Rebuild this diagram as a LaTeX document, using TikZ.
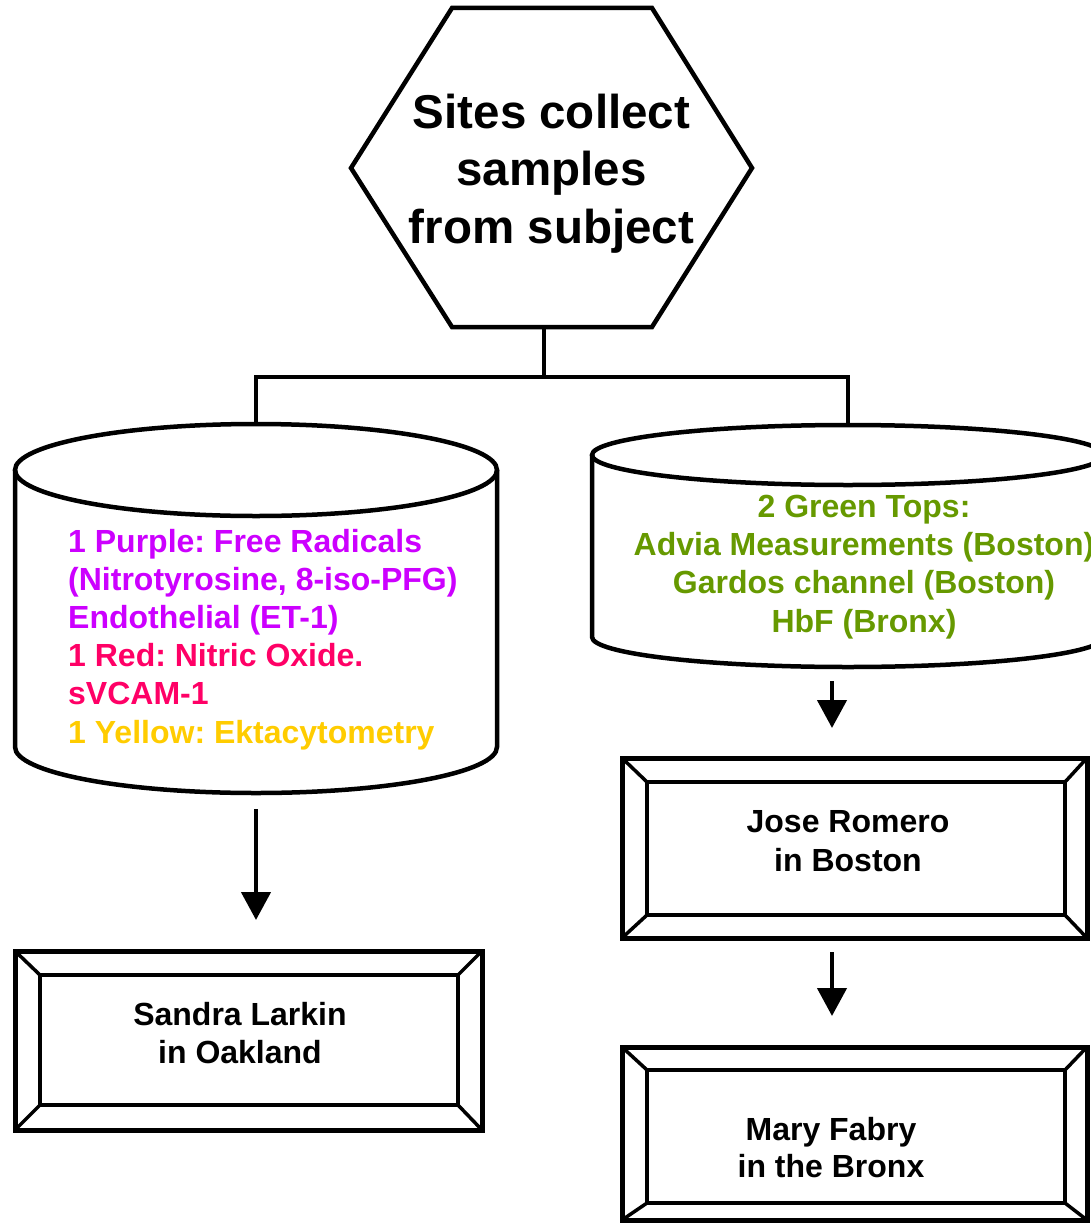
\documentclass[tikz,border=0pt]{standalone}
\usepackage{fontspec}
\setmainfont{Liberation Sans}
\usetikzlibrary{arrows.meta}
\frenchspacing
\definecolor{cpurple}{HTML}{CC00FF}
\definecolor{cred}{HTML}{FF0066}
\definecolor{cyellow}{HTML}{FFCC00}
\definecolor{cgreen}{HTML}{669900}
\newcommand{\bevbox}[8]{%
  % #1,#2 outer top-left; #3,#4 outer bottom-right; #5,#6 inner top-left; #7,#8 inner bottom-right
  \draw[outerline] (#1,#2) rectangle (#3,#4);
  \draw[innerline] (#5,#6) rectangle (#7,#8);
  \draw[diagline] (#1,#2) -- (#5,#6);
  \draw[diagline] (#3,#2) -- (#7,#6);
  \draw[diagline] (#1,#4) -- (#5,#8);
  \draw[diagline] (#3,#4) -- (#7,#8);
}
\begin{document}
\begin{tikzpicture}[x=1pt,y=-1pt,line join=miter,
  shp/.style={line width=4.5pt},
  conn/.style={line width=4pt},
  arr/.style={line width=4.5pt,-{Triangle[width=29pt,length=28pt]}},
  outerline/.style={line width=5pt},
  innerline/.style={line width=4pt},
  diagline/.style={line width=3.5pt},
  hextext/.style={inner sep=0pt,anchor=base,font=\bfseries\fontsize{47.5}{57}\selectfont},
  txt/.style={inner sep=0pt,font=\bfseries\fontsize{32}{38}\selectfont},
  ltxt/.style={txt,anchor=base west},
  ctxt/.style={txt,anchor=base}]
\useasboundingbox (0,0) rectangle (1091,1223);
\clip (0,0) rectangle (1091,1223);

% hexagon
\draw[shp] (452,8) -- (652,8) -- (752,168) -- (652,327) -- (452,327) -- (351,168) -- cycle;
\node[hextext] (hex1) at (551.5,128) {Sites collect};
\node[hextext] (hex2) at (551.5,185.5) {samples};
\node[hextext] (hex3) at (551.5,243) {from subject};
\coordinate (hexbot) at (544,327);
\coordinate (split) at (544,377);

% left cylinder
\draw[shp] (256,470) ellipse [x radius=241pt, y radius=46pt];
\draw[shp] (15,470) -- (15,747) arc [start angle=180, end angle=360, x radius=241pt, y radius=46pt] -- (497,470);
\coordinate (lcyltop) at (256,424);
\coordinate (lcylbot) at (256,809);
\node[ltxt,text=cpurple] (p1) at (68,552) {1 Purple: Free Radicals};
\node[ltxt,text=cpurple] (p2) at (68,590) {(Nitrotyrosine, 8-iso-PFG)};
\node[ltxt,text=cpurple] (p3) at (68,628) {Endothelial (ET-1)};
\node[ltxt,text=cred] (r1) at (68,666) {1 Red: Nitric Oxide.};
\node[ltxt,text=cred] (r2) at (68,704) {sVCAM-1};
\node[ltxt,text=cyellow] (y1) at (68,743) {1 Yellow: Ektacytometry};

% right cylinder
\draw[shp] (848,455) ellipse [x radius=256pt, y radius=30pt];
\draw[shp] (592,455) -- (592,637) arc [start angle=180, end angle=360, x radius=256pt, y radius=30pt] -- (1104,455);
\coordinate (rcyltop) at (848,425);
\coordinate (rcylbot) at (832,681);
\node[ctxt,text=cgreen] (g1) at (864,517) {2 Green Tops:};
\node[ctxt,text=cgreen] (g2) at (864,555) {Advia Measurements (Boston)};
\node[ctxt,text=cgreen] (g3) at (864,593) {Gardos channel (Boston)};
\node[ctxt,text=cgreen] (g4) at (864,632) {HbF (Bronx)};

% tree connector
\draw[conn] (hexbot) -- (split);
\draw[conn] (lcyltop) |- (split) -| (rcyltop);

% boxes
\bevbox{15}{951}{482}{1130}{40}{975}{458}{1105}
\node[ctxt] (sandra1) at (240,1025) {Sandra Larkin};
\node[ctxt] (sandra2) at (240,1063) {in Oakland};
\coordinate (sandratop) at (256,920);

\bevbox{622}{758}{1087}{938}{647}{782}{1065}{915}
\node[ctxt] (jose1) at (848,832) {Jose Romero};
\node[ctxt] (jose2) at (848,871) {in Boston};
\coordinate (josetop) at (832,728);
\coordinate (josebot) at (832,952);

\bevbox{622}{1047}{1087}{1220}{647}{1070}{1065}{1203}
\node[ctxt] (mary1) at (831,1140) {Mary Fabry};
\node[ctxt] (mary2) at (831,1177) {in the Bronx};
\coordinate (marytop) at (832,1016);

% arrows
\draw[arr] (lcylbot) -- (sandratop);
\draw[arr] (rcylbot) -- (josetop);
\draw[arr] (josebot) -- (marytop);
\end{tikzpicture}
\end{document}
